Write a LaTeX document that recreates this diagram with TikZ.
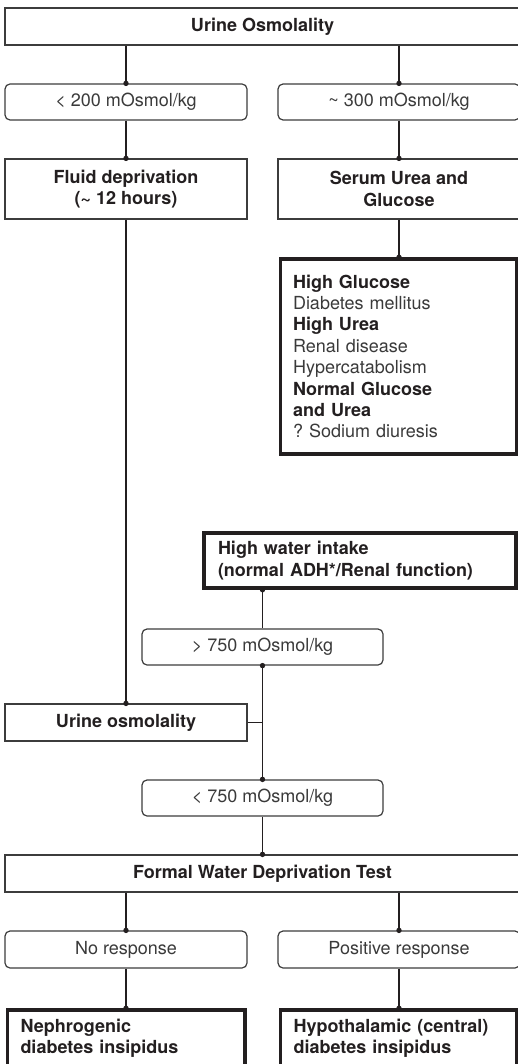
\documentclass[tikz,border=0pt]{standalone}
\usepackage{fontspec}
\setmainfont{TeX Gyre Heros}
\frenchspacing
\definecolor{ink}{HTML}{231F20}
\definecolor{thin}{HTML}{3C3C3C}
\definecolor{soft}{HTML}{3A3A3A}
\begin{document}
\begin{tikzpicture}[x=1pt,y=-1pt,
  every node/.style={font=\fontsize{18}{21.4}\selectfont, text=ink},
  plainbox/.style={draw=thin, line width=1.2pt, minimum width=242pt, minimum height=37pt, inner sep=0pt, align=center, font=\fontsize{18}{21.4}\selectfont\bfseries},
  roundbox/.style={draw=thin, line width=1.2pt, rounded corners=5pt, minimum width=242pt, minimum height=36pt, inner sep=0pt, text=soft},
  thickbox/.style={draw=ink, line width=3.5pt, align=left, inner ysep=0pt},
  link/.style={draw=ink, line width=1.3pt},
  dot/.style={fill=ink}
]
\useasboundingbox (0,0) rectangle (518,1064);

\node[plainbox, minimum width=515pt] (top) at (262.5,26.5) {Urine Osmolality};
\node[roundbox] (lo) at (126,102) {< 200 mOsmol/kg};
\node[roundbox] (mid) at (399,102) {\textasciitilde{} 300 mOsmol/kg};
\node[plainbox, minimum height=60pt] (fluid) at (126,189) {Fluid deprivation\\(\textasciitilde{} 12 hours)};
\node[plainbox, minimum height=60pt] (serum) at (399,189) {Serum Urea and\\Glucose};
\node[thickbox, text width=211pt, inner xsep=12.5pt, minimum height=195pt] (causes) at (398.5,356.5)
 {\textbf{High Glucose}\\
  \textcolor{soft}{Diabetes mellitus}\\
  \textbf{High Urea}\\
  \textcolor{soft}{Renal disease}\\
  \textcolor{soft}{Hypercatabolism}\\
  \textbf{Normal Glucose}\\
  \textbf{and Urea}\\
  \textcolor{soft}{?\ Sodium diuresis}};
\node[thickbox, text width=284pt, inner xsep=14pt, minimum height=55pt, font=\fontsize{18}{21.4}\selectfont\bfseries] (water) at (360,560.5)
 {High water intake\\(normal ADH*/Renal function)};
\node[roundbox, minimum width=241pt] (hi) at (262.5,647) {> 750 mOsmol/kg};
\node[plainbox] (uo) at (126,722.5) {Urine osmolality};
\node[roundbox, minimum width=241pt] (lt) at (262.5,798) {< 750 mOsmol/kg};
\node[plainbox, minimum width=515pt] (fw) at (262.5,873.5) {Formal Water Deprivation Test};
\node[roundbox, minimum height=37pt] (nr) at (126,949.5) {No response};
\node[roundbox, minimum height=37pt] (pr) at (399,949.5) {Positive response};
\node[thickbox, anchor=north, text width=211.5pt, inner xsep=13pt, inner ysep=9pt, font=\fontsize{18}{21.4}\selectfont\bfseries] (neph) at (126.25,1008.3)
 {Nephrogenic\\diabetes insipidus\rule[-12pt]{0pt}{12pt}};
\node[thickbox, anchor=north, text width=210pt, inner xsep=13pt, inner ysep=9pt, font=\fontsize{18}{21.4}\selectfont\bfseries] (hyp) at (398.5,1008.3)
 {Hypothalamic (central)\\diabetes insipidus\rule[-12pt]{0pt}{12pt}};

% connectors
\draw[link] (top.south -| lo.north) -- (lo.north);
\draw[link] (top.south -| mid.north) -- (mid.north);
\draw[link] (lo.south) -- (fluid.north);
\draw[link] (mid.south) -- (serum.north);
\draw[link] (serum.south) -- (serum.south |- causes.north);
\draw[link] (fluid.south) -- (uo.north);
\draw[link] (hi.north) -- (hi.north |- water.south);
\draw[link] (uo.east) -- (uo.east -| hi.south);
\draw[link] (hi.south) -- (lt.north);
\draw[link] (lt.south) -- (lt.south |- fw.north);
\draw[link] (fw.south -| nr.north) -- (nr.north);
\draw[link] (fw.south -| pr.north) -- (pr.north);
\draw[link] (nr.south) -- (nr.south |- neph.north);
\draw[link] (pr.south) -- (pr.south |- hyp.north);

% junction dots
\fill[dot] (lo.north) circle (2.7pt);
\fill[dot] (mid.north) circle (2.7pt);
\fill[dot] (fluid.north) circle (2.7pt);
\fill[dot] (serum.north) circle (2.7pt);
\fill[dot] (serum.south |- causes.north) circle (2.7pt);
\fill[dot] (uo.north) circle (2.7pt);
\fill[dot] (hi.north |- water.south) circle (2.7pt);
\fill[dot] (hi.south) circle (2.7pt);
\fill[dot] (lt.north) circle (2.7pt);
\fill[dot] (lt.south |- fw.north) circle (2.7pt);
\fill[dot] (nr.north) circle (2.7pt);
\fill[dot] (pr.north) circle (2.7pt);
\fill[dot] (nr.south |- neph.north) circle (2.7pt);
\fill[dot] (pr.south |- hyp.north) circle (2.7pt);
\end{tikzpicture}
\end{document}
